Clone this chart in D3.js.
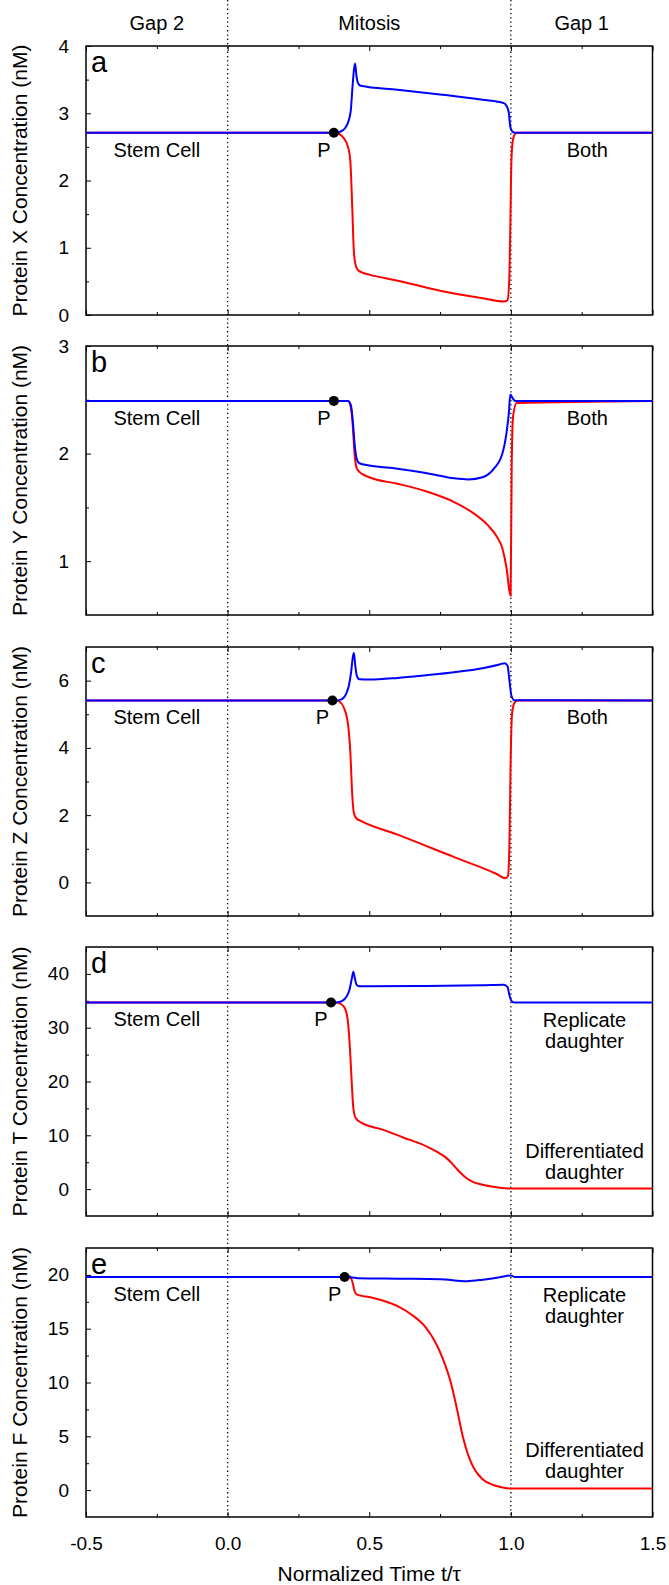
<!DOCTYPE html>
<html>
<head>
<meta charset="utf-8">
<script src="https://cdn.jsdelivr.net/npm/d3@7"></script>
<style>
  body { margin: 0; background: #fff; }
  svg { display: block; font-family: "Liberation Sans", Arial, sans-serif; }
</style>
</head>
<body>
<svg id="chart" width="669" height="1585"></svg>
<script>
// ---------- data ----------

const panelKeys = ["a", "b", "c", "d", "e"];
const proteinNames = ["X", "Y", "Z", "T", "F"];
const yDomains = [[0, 4], [0.5, 3], [-1, 7], [-5, 45], [-2.5, 22.5]];
const yMajorTicks = [[0, 1, 2, 3, 4], [1, 2, 3], [0, 2, 4, 6], [0, 10, 20, 30, 40], [0, 5, 10, 15, 20]];
const yMinorTicks = [[0.5, 1.5, 2.5, 3.5], [1.5, 2.5], [1, 3, 5], [5, 15, 25, 35], [2.5, 7.5, 12.5, 17.5]];
const steadyValues = [2.71, 2.49, 5.41, 34.7, 19.8];
const pointTimes = [0.375, 0.375, 0.37, 0.365, 0.413];

const phaseLabels = ["Gap 2", "Mitosis", "Gap 1"];
const phaseCenters = [-0.25, 0.5, 1.25];
const phaseBounds = [0, 1];
const xMajorTicks = [-0.5, 0, 0.5, 1, 1.5];
const xMinorTicks = [-0.25, 0.25, 0.75, 1.25];

// panel a - protein X
const aBlueT = [-0.5, 0.385, 0.4, 0.415, 0.428, 0.435, 0.441, 0.446, 0.45, 0.455, 0.46, 0.47, 0.6, 0.75, 0.9, 0.975, 0.986, 0.993, 0.998, 1.005, 1.015, 1.5];
const aBlueV = [2.71, 2.71, 2.73, 2.78, 2.9, 3.05, 3.4, 3.65, 3.74, 3.55, 3.45, 3.41, 3.35, 3.28, 3.2, 3.15, 3.1, 3.0, 2.8, 2.73, 2.71, 2.71];
const aRedT = [-0.5, 0.385, 0.395, 0.41, 0.425, 0.433, 0.44, 0.445, 0.45, 0.458, 0.47, 0.5, 0.6, 0.7, 0.8, 0.9, 0.975, 0.988, 0.994, 0.998, 1.002, 1.008, 1.02, 1.5];
const aRedV = [2.71, 2.71, 2.69, 2.63, 2.5, 2.3, 1.6, 1.0, 0.78, 0.68, 0.64, 0.6, 0.51, 0.41, 0.32, 0.25, 0.2, 0.22, 0.5, 1.3, 2.3, 2.62, 2.71, 2.71];

// panel b - protein Y
const bBlueT = [-0.5, 0.425, 0.435, 0.442, 0.448, 0.455, 0.465, 0.5, 0.6, 0.7, 0.8, 0.85, 0.9, 0.94, 0.97, 0.985, 0.993, 0.998, 1.005, 1.015, 1.5];
const bBlueV = [2.49, 2.49, 2.45, 2.3, 2.1, 1.96, 1.91, 1.89, 1.86, 1.82, 1.77, 1.76, 1.78, 1.86, 2.0, 2.2, 2.38, 2.55, 2.52, 2.49, 2.49];
const bRedT = [-0.5, 0.425, 0.435, 0.442, 0.448, 0.455, 0.465, 0.5, 0.6, 0.7, 0.8, 0.86, 0.92, 0.95, 0.97, 0.985, 0.995, 0.999, 1.003, 1.008, 1.02, 1.5];
const bRedV = [2.49, 2.49, 2.43, 2.25, 2.0, 1.87, 1.83, 1.78, 1.72, 1.65, 1.55, 1.46, 1.33, 1.23, 1.12, 0.93, 0.72, 0.68, 1.9, 2.35, 2.47, 2.49];

// panel c - protein Z
const cBlueT = [-0.5, 0.385, 0.405, 0.418, 0.428, 0.436, 0.442, 0.446, 0.45, 0.456, 0.465, 0.5, 0.6, 0.7, 0.8, 0.9, 0.96, 0.978, 0.988, 0.995, 1.002, 1.012, 1.5];
const cBlueV = [5.41, 5.41, 5.46, 5.6, 5.85, 6.25, 6.7, 6.82, 6.5, 6.15, 6.04, 6.03, 6.08, 6.16, 6.25, 6.37, 6.48, 6.52, 6.45, 6.0, 5.55, 5.42, 5.41];
const cRedT = [-0.5, 0.385, 0.395, 0.41, 0.425, 0.433, 0.44, 0.446, 0.455, 0.47, 0.6, 0.8, 0.95, 0.982, 0.99, 0.995, 0.999, 1.004, 1.012, 1.025, 1.5];
const cRedV = [5.41, 5.41, 5.38, 5.2, 4.7, 3.9, 2.6, 2.05, 1.9, 1.83, 1.42, 0.75, 0.25, 0.12, 0.2, 1.2, 3.5, 5.0, 5.33, 5.41, 5.41];

// panel d - protein T
const dBlueT = [-0.5, 0.385, 0.405, 0.42, 0.43, 0.438, 0.444, 0.449, 0.455, 0.465, 0.5, 0.7, 0.9, 0.975, 0.988, 0.995, 1.002, 1.012, 1.5];
const dBlueV = [34.7, 34.7, 35.0, 35.8, 37.0, 39.0, 40.4, 39.2, 38.0, 37.7, 37.7, 37.75, 37.9, 38.0, 37.6, 36.0, 35.0, 34.7, 34.7];
const dRedT = [-0.5, 0.385, 0.4, 0.415, 0.425, 0.432, 0.438, 0.443, 0.448, 0.455, 0.47, 0.55, 0.62, 0.7, 0.74, 0.77, 0.795, 0.815, 0.835, 0.86, 0.9, 0.95, 1.0, 1.5];
const dRedV = [34.7, 34.7, 34.4, 33.5, 31.0, 26.0, 20.0, 15.5, 13.8, 13.0, 12.4, 11.0, 9.6, 8.0, 6.9, 5.9, 4.6, 3.4, 2.4, 1.5, 0.8, 0.35, 0.1, 0.1];

// panel e - protein F
const eBlueT = [-0.5, 0.42, 0.43, 0.44, 0.46, 0.6, 0.75, 0.845, 0.9, 0.96, 1.0, 1.015, 1.5];
const eBlueV = [19.8, 19.8, 19.85, 19.75, 19.7, 19.65, 19.6, 19.42, 19.55, 19.78, 19.95, 19.8, 19.8];
const eRedT = [-0.5, 0.42, 0.435, 0.442, 0.448, 0.455, 0.465, 0.5, 0.55, 0.6, 0.65, 0.7, 0.73, 0.76, 0.79, 0.81, 0.83, 0.85, 0.87, 0.9, 0.94, 0.97, 1.0, 1.5];
const eRedV = [19.8, 19.8, 19.7, 19.2, 18.5, 18.2, 18.1, 17.95, 17.6, 17.1, 16.3, 15.1, 13.9, 12.2, 9.8, 7.5, 5.0, 3.2, 2.0, 1.0, 0.45, 0.25, 0.15, 0.15];

const blueSeries = [[aBlueT, aBlueV], [bBlueT, bBlueV], [cBlueT, cBlueV], [dBlueT, dBlueV], [eBlueT, eBlueV]];
const redSeries = [[aRedT, aRedV], [bRedT, bRedV], [cRedT, cRedV], [dRedT, dRedV], [eRedT, eRedV]];

// ---------- layout ----------

const panelTops = [46, 346, 647, 947, 1248];
const panelH = 269;
const left = 86, right = 652.5;
const BLUE = "#0000ff", RED = "#ff0000";

const svg = d3.select("#chart");

const x = d3.scaleLinear().domain([-0.5, 1.5]).range([left, right]);

// dotted phase boundaries (run from very top to bottom of last panel)
svg.selectAll("line.bound")
  .data(phaseBounds)
  .join("line")
  .attr("class", "bound")
  .attr("x1", d => x(d)).attr("x2", d => x(d))
  .attr("y1", 0).attr("y2", panelTops[4] + panelH)
  .attr("stroke", "#000")
  .attr("stroke-width", 1.3)
  .attr("stroke-dasharray", "1.3,3");

// phase headers
svg.selectAll("text.phase")
  .data(phaseLabels)
  .join("text")
  .attr("class", "phase")
  .attr("x", (d, i) => x(phaseCenters[i]))
  .attr("y", 30)
  .attr("text-anchor", "middle")
  .attr("font-size", 20)
  .text(d => d);

panelKeys.forEach((key, i) => {
  const top = panelTops[i], bottom = top + panelH;
  const y = d3.scaleLinear().domain(yDomains[i]).range([bottom, top]);
  const g = svg.append("g");

  // x ticks on top and bottom, pointing inward
  const xBottom = g.append("g").attr("transform", `translate(0,${bottom})`)
    .call(d3.axisBottom(x).tickValues(xMajorTicks).tickSize(-5).tickPadding(20)
      .tickFormat(i === 4 ? d => d.toFixed(1) : ""));
  g.append("g").attr("transform", `translate(0,${bottom})`)
    .call(d3.axisBottom(x).tickValues(xMinorTicks).tickSize(-3).tickFormat(""));
  g.append("g").attr("transform", `translate(0,${top})`)
    .call(d3.axisTop(x).tickValues(xMajorTicks).tickSize(-5).tickFormat(""));
  g.append("g").attr("transform", `translate(0,${top})`)
    .call(d3.axisTop(x).tickValues(xMinorTicks).tickSize(-3).tickFormat(""));

  // y ticks on left, pointing inward
  g.append("g").attr("transform", `translate(${left},0)`)
    .call(d3.axisLeft(y).tickValues(yMajorTicks[i]).tickSize(-5).tickPadding(17)
      .tickFormat(d => String(d)));
  g.append("g").attr("transform", `translate(${left},0)`)
    .call(d3.axisLeft(y).tickValues(yMinorTicks[i]).tickSize(-3).tickFormat(""));

  g.selectAll(".domain").remove();
  g.selectAll(".tick line").attr("stroke", "#000");
  g.selectAll(".tick text").attr("font-size", 19).attr("font-family", null).attr("fill", "#000");
  xBottom.selectAll(".tick text").attr("dy", "0.71em");

  // frame
  g.append("rect")
    .attr("x", left).attr("y", top)
    .attr("width", right - left).attr("height", panelH)
    .attr("fill", "none").attr("stroke", "#000").attr("stroke-width", 1.5);

  // y title
  g.append("text")
    .attr("transform", `translate(27,${(top + bottom) / 2}) rotate(-90)`)
    .attr("text-anchor", "middle")
    .attr("font-size", 21)
    .text(`Protein ${proteinNames[i]} Concentration (nM)`);

  // panel letter
  g.append("text")
    .attr("x", left + 5).attr("y", top + 26)
    .attr("font-size", 29)
    .text(key);

  // curves: red first, blue on top
  const line = d3.line()
    .x(d => x(d[0])).y(d => y(d[1]))
    .curve(d3.curveMonotoneX);
  g.append("path")
    .datum(d3.zip(...redSeries[i]))
    .attr("d", line)
    .attr("fill", "none").attr("stroke", RED).attr("stroke-width", 2);
  g.append("path")
    .datum(d3.zip(...blueSeries[i]))
    .attr("d", line)
    .attr("fill", "none").attr("stroke", BLUE).attr("stroke-width", 2);

  // point P
  const ys = y(steadyValues[i]);
  g.append("circle")
    .attr("cx", x(pointTimes[i])).attr("cy", ys)
    .attr("r", 5).attr("fill", "#000");
  g.append("text")
    .attr("x", x(pointTimes[i]) - 10).attr("y", ys + 24)
    .attr("text-anchor", "middle").attr("font-size", 20)
    .text("P");

  g.append("text")
    .attr("x", x(-0.25)).attr("y", ys + 24)
    .attr("text-anchor", "middle").attr("font-size", 20)
    .text("Stem Cell");

  if (i < 3) {
    g.append("text")
      .attr("x", x(1.27)).attr("y", ys + 24)
      .attr("text-anchor", "middle").attr("font-size", 20)
      .text("Both");
  } else {
    const redEnd = y(redSeries[i][1][redSeries[i][1].length - 1]);
    [["Replicate", ys + 25], ["daughter", ys + 46],
     ["Differentiated", redEnd - 31], ["daughter", redEnd - 10]].forEach(([t, yy]) => {
      g.append("text")
        .attr("x", x(1.26)).attr("y", yy)
        .attr("text-anchor", "middle").attr("font-size", 20)
        .text(t);
    });
  }
});

// x title
svg.append("text")
  .attr("x", x(0.5)).attr("y", 1581)
  .attr("text-anchor", "middle")
  .attr("font-size", 21)
  .text("Normalized Time t/τ");
</script>
</body>
</html>
